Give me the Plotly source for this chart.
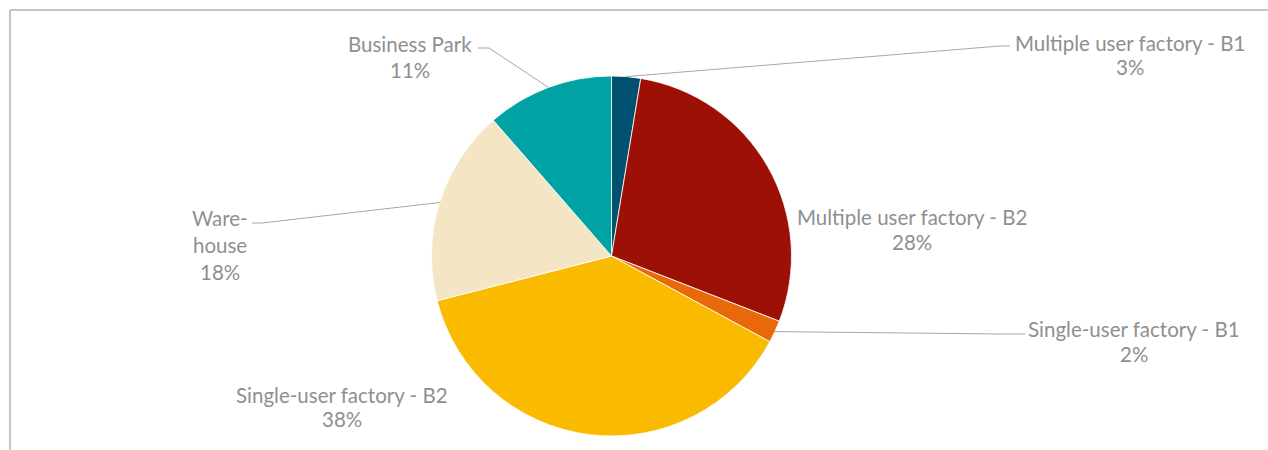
import math
import plotly.graph_objects as go

# ---- data ----
categories = ["Multiple user factory - B1", "Multiple user factory - B2",
              "Single-user factory - B1", "Single-user factory - B2",
              "Ware-<br>house", "Business Park"]
values = [2.6, 28.3, 2.0, 38.1, 17.6, 11.4]
colors = ["#00506F", "#9C1006", "#E8680A", "#F9BA00", "#F4E5C4", "#00A2A4"]

# ---- layout geometry (pixels) ----
W, H = 1268, 450
CX, CY, R = 611.5, 256.0, 180.0

# label first-line centre positions, line spacing and leader-line elbow points
label_pos = [(1130, 43), (912, 217), (1134, 329), (342, 395), (220, 218), (410, 44)]
line_gap = [24, 25, 25, 24, 27, 26]
leader_elbows = [
    [(1000, 46), (1010, 46)],
    None,
    [(1000, 334), (1025, 334)],
    None,
    [(262, 223), (252, 223)],
    [(489, 48), (478, 48)],
]

def px(x):
    return x / W

def py(y):
    return 1 - y / H

fig = go.Figure(go.Pie(
    labels=categories,
    values=values,
    sort=False,
    direction="clockwise",
    rotation=0,
    marker=dict(colors=colors, line=dict(color="white", width=0.8)),
    textinfo="none",
    hoverinfo="label+percent",
    domain=dict(x=[px(CX - R), px(CX + R)], y=[py(CY + R), py(CY - R)]),
    showlegend=False,
))

total = sum(values)
cum = 0.0
annotations = []
shapes = []
for cat, v, (lx, ly), gap, elbows in zip(categories, values, label_pos, line_gap, leader_elbows):
    mid = (cum + v / 2) / total * 2 * math.pi
    cum += v
    pct = round(v / total * 100)
    lines = cat.split("<br>") + [f"{pct}%"]
    for i, t in enumerate(lines):
        annotations.append(dict(
            x=px(lx), y=py(ly + i * gap), xref="paper", yref="paper",
            text=t, showarrow=False, align="center",
            xanchor="center", yanchor="middle",
            font=dict(family="Lato", size=20.5, color="#8F8F8F"),
        ))
    if elbows:
        sx = CX + R * math.sin(mid)
        sy = CY - R * math.cos(mid)
        pts = [(sx, sy)] + elbows
        path = "M " + " L ".join(f"{px(x)},{py(y)}" for x, y in pts)
        shapes.append(dict(type="path", path=path, xref="paper", yref="paper",
                           line=dict(color="#A6A6A6", width=1)))

# chart frame (top and left edges visible)
shapes.append(dict(type="line", xref="paper", yref="paper",
                   x0=px(10), y0=py(10), x1=px(W + 5), y1=py(10),
                   line=dict(color="#C4C4C4", width=2)))
shapes.append(dict(type="line", xref="paper", yref="paper",
                   x0=px(10), y0=py(10), x1=px(10), y1=py(H + 5),
                   line=dict(color="#C4C4C4", width=2)))

fig.update_layout(
    width=W, height=H,
    margin=dict(l=0, r=0, t=0, b=0),
    paper_bgcolor="white", plot_bgcolor="white",
    annotations=annotations, shapes=shapes,
)

fig.write_html(
    "out.html",
    config={"displayModeBar": False},
    post_script="document.body.style.margin='0px';document.body.style.overflow='hidden';",
)
